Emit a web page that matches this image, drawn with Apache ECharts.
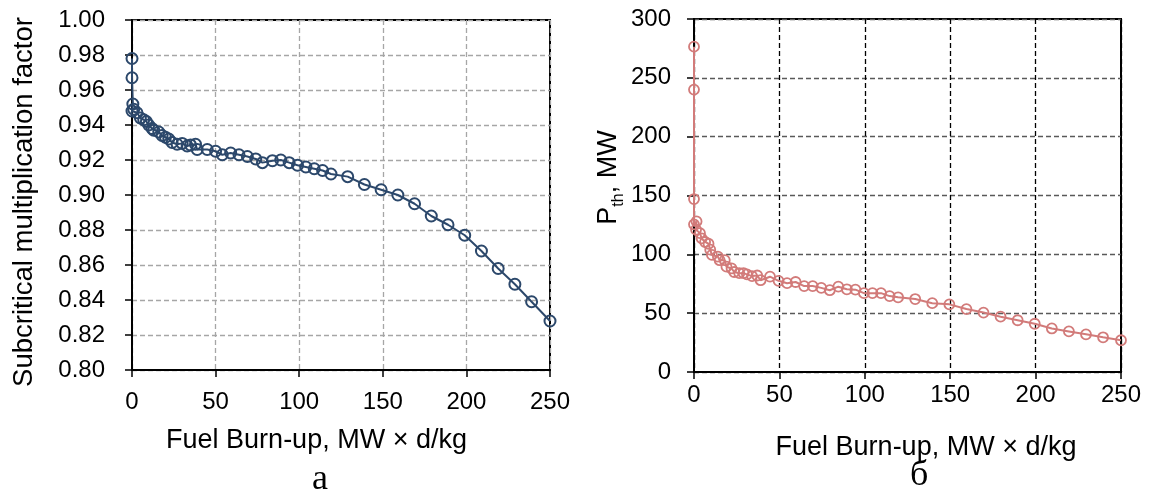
<!DOCTYPE html>
<html>
<head>
<meta charset="utf-8">
<script src="https://cdn.jsdelivr.net/npm/echarts@6/dist/echarts.min.js"></script>
<style>
  html, body { margin: 0; padding: 0; background: #fff; }
  #chart { width: 1151px; height: 495px; }
</style>
</head>
<body>
<div id="chart"></div>
<script>
// ---- Data ----
const burnupA = [0, 0, 0.5, 0, 1, 3, 5, 7, 8.6, 10, 12, 13, 16, 18, 20, 22, 24, 27, 30, 33, 35, 38, 39, 45, 50, 54, 59, 64, 69, 74, 78, 84, 89, 94, 99, 104, 109, 114, 119, 129, 139, 149, 159, 169, 179, 189, 199, 209, 219, 229, 239, 250];
const kValues = [0.978, 0.967, 0.952, 0.948, 0.949, 0.947, 0.944, 0.943, 0.942, 0.940, 0.938, 0.937, 0.936, 0.934, 0.933, 0.932, 0.930, 0.929, 0.9295, 0.928, 0.9286, 0.929, 0.926, 0.926, 0.925, 0.923, 0.924, 0.923, 0.922, 0.9206, 0.9185, 0.9196, 0.920, 0.9185, 0.917, 0.916, 0.915, 0.914, 0.912, 0.9105, 0.906, 0.903, 0.900, 0.895, 0.888, 0.883, 0.877, 0.868, 0.858, 0.849, 0.839, 0.828];

const burnupB = [0, 0, 0, 0, 1.5, 1.2, 3.5, 4.5, 6.5, 8.5, 9.5, 10.5, 14, 15, 18, 19, 22, 23.5, 26.5, 29, 31, 34, 37, 39, 44.5, 49.5, 54.5, 59.5, 64.5, 69.5, 74.5, 79.5, 84.5, 89.5, 94.5, 99.5, 104.5, 109.5, 114.5, 119.5, 129.5, 139.5, 149.5, 159.5, 169.5, 179.5, 189.5, 199.5, 209.5, 219.5, 229.5, 239.5, 250];
const powerValues = [276.5, 240, 147, 125.5, 128, 121, 118, 113.5, 110.5, 109, 104, 99.5, 98, 95, 95, 89.5, 88, 85, 84, 84, 83, 81.5, 82, 78, 81, 77.5, 75.5, 76.5, 73, 73, 71.5, 69.5, 72.5, 70.3, 70, 67, 67, 67, 64.5, 63.5, 62, 58.5, 57.5, 53.5, 50.5, 47, 44, 41, 37, 34.5, 32, 29.5, 27];

const xTicks = [0, 50, 100, 150, 200, 250];
const xName = 'Fuel Burn-up, MW × d/kg';
const yNameA = 'Subcritical multiplication factor';
const captionA = 'а';
const captionB = 'б';

// ---- Chart ----
const FONT = '"Liberation Sans", Arial, sans-serif';
const chart = echarts.init(document.getElementById('chart'), null, { renderer: 'canvas' });

const pairs = (xs, ys) => xs.map((x, i) => [x, ys[i]]);

const option = {
  animation: false,
  backgroundColor: '#fff',
  textStyle: { fontFamily: FONT, color: '#000' },
  grid: [
    { left: 132, top: 20, width: 418, height: 350, show: true, borderColor: '#000', borderWidth: 2, backgroundColor: 'transparent' },
    { left: 694, top: 19, width: 427, height: 353, show: true, borderColor: '#000', borderWidth: 2, backgroundColor: 'transparent' }
  ],
  xAxis: [
    {
      gridIndex: 0, type: 'value', min: xTicks[0], max: xTicks[xTicks.length - 1], interval: 50,
      axisLine: { show: true, onZero: false, lineStyle: { color: '#000', width: 2 } },
      axisTick: { show: true, length: 7, lineStyle: { color: '#000', width: 1.5 } },
      axisLabel: { fontSize: 24, color: '#000', margin: 20, fontFamily: FONT },
      splitLine: { show: true, lineStyle: { color: '#a6a6a6', type: [5, 3], width: 1.3 } },
      name: xName, nameLocation: 'middle', nameGap: 57,
      nameTextStyle: { fontSize: 27, color: '#000', fontFamily: FONT, padding: [0, 49, 0, 0] }
    },
    {
      gridIndex: 1, type: 'value', min: xTicks[0], max: xTicks[xTicks.length - 1], interval: 50,
      axisLine: { show: true, onZero: false, lineStyle: { color: '#000', width: 2 } },
      axisTick: { show: true, length: 7, lineStyle: { color: '#000', width: 1.5 } },
      axisLabel: { fontSize: 24, color: '#000', margin: 11, fontFamily: FONT },
      splitLine: { show: true, lineStyle: { color: '#000', type: [5, 3], width: 1.3 } },
      name: xName, nameLocation: 'middle', nameGap: 62,
      nameTextStyle: { fontSize: 27, color: '#000', fontFamily: FONT, padding: [0, 0, 0, 37] }
    }
  ],
  yAxis: [
    {
      gridIndex: 0, type: 'value', min: 0.8, max: 1.0, interval: 0.02,
      axisLine: { show: true, onZero: false, lineStyle: { color: '#000', width: 2 } },
      axisTick: { show: true, length: 7, lineStyle: { color: '#000', width: 1.5 } },
      axisLabel: { fontSize: 24, color: '#000', margin: 27, fontFamily: FONT, formatter: v => v.toFixed(2) },
      splitLine: { show: true, lineStyle: { color: '#a6a6a6', type: [5, 3], width: 1.3 } },
      name: yNameA, nameLocation: 'middle', nameGap: 94, nameRotate: 90,
      nameTextStyle: { fontSize: 27.5, color: '#000', fontFamily: FONT, padding: [0, 14, 0, 0] }
    },
    {
      gridIndex: 1, type: 'value', min: 0, max: 300, interval: 50,
      axisLine: { show: true, onZero: false, lineStyle: { color: '#000', width: 2 } },
      axisTick: { show: true, length: 7, lineStyle: { color: '#000', width: 1.5 } },
      axisLabel: { fontSize: 24, color: '#000', margin: 23, fontFamily: FONT },
      splitLine: { show: true, lineStyle: { color: '#595959', type: [5, 3], width: 1.3 } },
      name: '{p|P}{s|th}{p|, MW}', nameLocation: 'middle', nameGap: 58, nameRotate: 90,
      nameTextStyle: {
        color: '#000', fontFamily: FONT, padding: [0, 0, 0, 36],
        rich: {
          p: { fontSize: 27, lineHeight: 37, verticalAlign: 'middle', fontFamily: FONT, color: '#000' },
          s: { fontSize: 16, lineHeight: 16, verticalAlign: 'bottom', fontFamily: FONT, color: '#000' }
        }
      }
    }
  ],
  series: [
    {
      type: 'line', xAxisIndex: 0, yAxisIndex: 0,
      data: pairs(burnupA, kValues),
      symbol: 'circle', symbolSize: 11,
      lineStyle: { color: '#2c486b', width: 2 },
      itemStyle: { color: 'rgba(255,255,255,0)', borderColor: '#2c486b', borderWidth: 2 }
    },
    {
      type: 'line', xAxisIndex: 1, yAxisIndex: 1,
      data: pairs(burnupB, powerValues),
      symbol: 'circle', symbolSize: 10,
      lineStyle: { color: '#d27b7a', width: 2 },
      itemStyle: { color: 'rgba(255,255,255,0)', borderColor: '#d27b7a', borderWidth: 1.8 }
    }
  ],
  graphic: [
    { type: 'text', left: 312, top: 462, style: { text: captionA, font: '36px "Liberation Serif", "Times New Roman", serif', fill: '#000' } },
    { type: 'text', left: 910, top: 458, style: { text: captionB, font: '36px "Liberation Serif", "Times New Roman", serif', fill: '#000' } }
  ]
};
chart.setOption(option);
</script>
</body>
</html>
